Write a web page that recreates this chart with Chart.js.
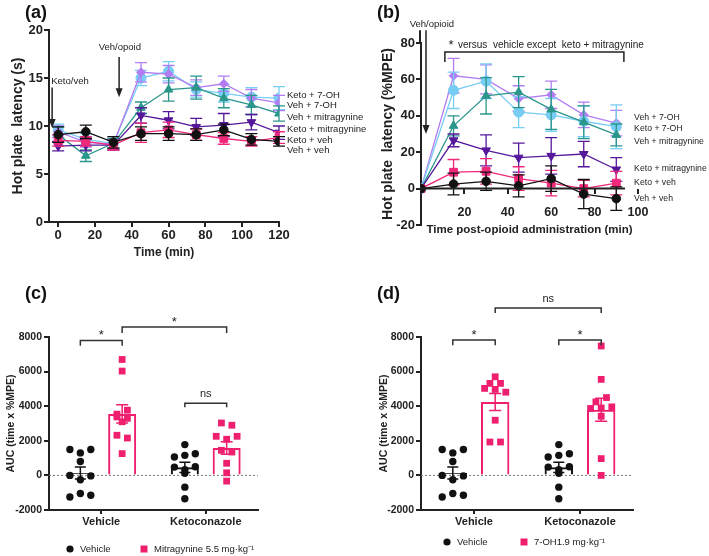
<!DOCTYPE html>
<html>
<head>
<meta charset="utf-8">
<title>Hot plate latency</title>
<script src="https://cdn.jsdelivr.net/npm/chart.js@4.4.1/dist/chart.umd.min.js"></script>
<style>
  html, body { margin: 0; padding: 0; background: #fff; }
  #fig { position: relative; width: 709px; height: 556px; overflow: hidden; font-family: "Liberation Sans", Arial, sans-serif; }
  #fig canvas { position: absolute; }
  .tag { position: absolute; font-weight: bold; font-size: 18px; line-height: 18px; color: #111; }
</style>
</head>
<body>
<div id="fig">
  <canvas id="chartA" width="372" height="270" style="left:0;top:0"></canvas>
  <canvas id="chartB" width="354" height="262" style="left:355px;top:0"></canvas>
  <canvas id="chartC" width="354" height="276" style="left:0;top:280px"></canvas>
  <canvas id="chartD" width="354" height="276" style="left:355px;top:280px"></canvas>
  <div class="tag" style="left:25px;top:3px">(a)</div>
  <div class="tag" style="left:377px;top:3px">(b)</div>
  <div class="tag" style="left:25px;top:284px">(c)</div>
  <div class="tag" style="left:377px;top:284px">(d)</div>
</div>
<script>
// ---- (a) hot plate latency in seconds
const timeA = [0, 15, 30, 45, 60, 75, 90, 105, 120];
const tickAx = [0, 20, 40, 60, 80, 100, 120];
const tickAy = [0, 5, 10, 15, 20];
const ketoOH_A = [9.6, 8.6, 8.2, 15.0, 15.7, 13.8, 13.4, 13.0, 12.9];
const ketoOH_Aerr = [0.6, 0.6, 0.5, 0.8, 1.0, 0.8, 0.9, 1.0, 1.2];
const vehOH_A = [9.4, 8.3, 8.1, 15.6, 15.4, 14.0, 14.4, 12.9, 12.4];
const vehOH_Aerr = [0.6, 0.5, 0.5, 1.0, 0.9, 0.8, 0.8, 0.9, 0.8];
const vehMit_A = [9.1, 6.9, 8.2, 11.9, 13.8, 14.0, 12.9, 12.2, 11.3];
const vehMit_Aerr = [0.8, 0.6, 0.5, 0.6, 1.2, 1.2, 1.0, 1.0, 0.8];
const ketoMit_A = [7.9, 8.0, 8.0, 11.1, 10.6, 9.9, 10.1, 10.4, 9.3];
const ketoMit_Aerr = [0.5, 0.6, 0.5, 0.8, 0.9, 0.9, 1.2, 0.8, 0.7];
const ketoVeh_A = [8.5, 8.4, 8.0, 9.3, 9.6, 9.1, 8.7, 8.4, 8.8];
const ketoVeh_Aerr = [0.6, 0.5, 0.5, 1.0, 0.8, 0.6, 0.6, 0.5, 0.6];
const vehVeh_A = [9.1, 9.4, 8.3, 9.2, 9.2, 9.1, 9.6, 8.6, 8.4];
const vehVeh_Aerr = [0.8, 0.7, 0.6, 0.7, 0.7, 0.6, 0.6, 0.6, 0.5];

// ---- (b) %MPE after opioid
const timeB = [0, 15, 30, 45, 60, 75, 90];
const tickBx = [20, 40, 60, 80, 100];
const tickBy = [-20, 0, 20, 40, 60, 80];
const vehOH_B = [0, 62, 60, 49.5, 51.5, 40.5, 36];
const vehOH_Berr = [0, 9.5, 8, 7, 7.5, 7, 7];
const ketoOH_B = [0, 54, 59, 42, 40.5, 37, 34];
const ketoOH_Berr = [0, 10, 9.5, 8.5, 9, 8.5, 12];
const vehMit_B = [0, 34.5, 51, 53, 43.5, 36.5, 29.5];
const vehMit_Berr = [0, 5.5, 10, 8.5, 11, 9, 6];
const ketoMit_B = [0, 26.5, 21, 17, 18, 19, 10.5];
const ketoMit_Berr = [0, 3.5, 8.5, 8, 10, 7, 6.5];
const ketoVeh_B = [0, 9, 9.5, 5.5, 3, 0, 3];
const ketoVeh_Berr = [0, 7, 7, 6.5, 7, 4.5, 6.5];
const vehVeh_B = [0, 2.5, 4, 1.5, 5.5, -3, -5.5];
const vehVeh_Berr = [0, 6, 5, 6, 7, 8, 6.5];

// ---- (c)/(d) AUC, individual animals
const groupsAUC = ['Vehicle', 'Ketoconazole'];
const tickAUC = [-2000, 0, 2000, 4000, 6000, 8000];
const vehAUC_vehicle = [1500, 1300, 1500, 800, 0, -250, -30, -1250, -1050, -1150];
const vehAUC_keto = [1780, 1060, 1160, 1250, 480, 330, 500, 120, -680, -1350];
const mitAUC_vehicle = [6700, 6030, 3540, 3770, 3380, 3300, 3100, 2320, 2160, 1260];
const mitAUC_keto = [3030, 2900, 2260, 2090, 2260, 1450, 1350, 700, 150, -330];
const ohAUC_vehicle = [5700, 5030, 4970, 4810, 5320, 5320, 3190, 1930, 1930];
const ohAUC_keto = [7480, 5550, 4250, 4500, 3870, 3900, 3960, 3420, 970, 0];

const FONT = '"Liberation Sans", Arial, sans-serif';
const PINK = '#EE1F6F';
const C = {
  ketoOH: '#78CDF4', vehOH: '#B27DF2', vehMit: '#2A968B',
  ketoMit: '#55189B', ketoVeh: '#F0287A', vehVeh: '#111111'
};

Chart.defaults.font.family = FONT;
Chart.defaults.color = '#222';
Chart.defaults.animation = false;
Chart.defaults.plugins.legend.display = false;
Chart.defaults.plugins.tooltip.enabled = false;

// error bars: behind the points of line series, on top of bars
function drawErr(chart, i, kind) {
  const ds = chart.data.datasets[i];
  if (!ds.err || ds.errKind !== kind) return;
  const meta = chart.getDatasetMeta(i);
  const ys = chart.scales[meta.yAxisID];
  const ctx = chart.ctx;
  ctx.save();
  ctx.strokeStyle = ds.borderColor;
  ctx.lineWidth = ds.errWidth || 1.3;
  meta.data.forEach((el, j) => {
    const e = ds.err[j];
    if (!e) return;
    const d = ds.data[j];
    const v = typeof d === 'object' ? d.y : d;
    const t = ys.getPixelForValue(v + e), b = ys.getPixelForValue(v - e);
    const w = ds.cap || 6;
    ctx.beginPath();
    ctx.moveTo(el.x, t); ctx.lineTo(el.x, b);
    ctx.moveTo(el.x - w, t); ctx.lineTo(el.x + w, t);
    ctx.moveTo(el.x - w, b); ctx.lineTo(el.x + w, b);
    ctx.stroke();
  });
  ctx.restore();
}
const errBars = {
  id: 'errBars',
  beforeDatasetDraw(chart, args) { drawErr(chart, args.index, 'line'); },
  afterDatasetDraw(chart, args) { drawErr(chart, args.index, 'bar'); }
};

function arrowDown(ctx, x, y1, y2) {
  ctx.beginPath();
  ctx.lineWidth = 1.5;
  ctx.moveTo(x, y1); ctx.lineTo(x, y2 - 6);
  ctx.stroke();
  ctx.beginPath();
  ctx.moveTo(x - 3.5, y2 - 9); ctx.lineTo(x + 3.5, y2 - 9); ctx.lineTo(x, y2);
  ctx.closePath(); ctx.fill();
}

function series(name, xs, ys, err, color, style, r, rot) {
  return {
    label: name, data: xs.map((t, i) => ({x: t, y: ys[i]})), err: err, errKind: 'line', cap: 6,
    borderColor: color, backgroundColor: color, borderWidth: 1.3,
    pointStyle: style, pointRadius: r, pointRotation: rot || 0,
    pointBackgroundColor: color, pointBorderColor: color, pointBorderWidth: 1
  };
}

function axisCommon(size) {
  return {
    border: {display: true, color: '#222', width: 2},
    grid: {drawOnChartArea: false, drawTicks: true, tickLength: 5, color: '#222', lineWidth: 2},
    ticks: {font: {size: size, weight: 'bold'}, color: '#222'}
  };
}

// ---------------- panel (a)
const namesA = ['Keto + 7-OH', 'Veh + 7-OH', 'Veh + mitragynine', 'Keto + mitragynine', 'Keto + veh', 'Veh + veh'];
const labelYA = [13.2, 12.2, 10.9, 9.7, 8.5, 7.5];
const notesA = {
  id: 'notesA',
  afterDraw(chart) {
    const {ctx, scales: {x, y}} = chart;
    ctx.save();
    ctx.fillStyle = '#222'; ctx.strokeStyle = '#222';
    ctx.font = '9.5px ' + FONT;
    ctx.textBaseline = 'middle';
    ctx.textAlign = 'left';
    ctx.fillText('Keto/veh', x.getPixelForValue(-3.8), y.getPixelForValue(14.6));
    arrowDown(ctx, x.getPixelForValue(-3.3), y.getPixelForValue(14.0), y.getPixelForValue(9.8));
    ctx.textAlign = 'center';
    ctx.fillText('Veh/opoid', x.getPixelForValue(33.5), y.getPixelForValue(18.2));
    arrowDown(ctx, x.getPixelForValue(33.1), y.getPixelForValue(17.2), y.getPixelForValue(13.0));
    ctx.textAlign = 'left';
    namesA.forEach((s, i) => ctx.fillText(s, x.getPixelForValue(124.3), y.getPixelForValue(labelYA[i])));
    ctx.restore();
  }
};

const axAx = axisCommon(13), axAy = axisCommon(13);
axAx.ticks.padding = 1; axAy.ticks.padding = 1;
new Chart(document.getElementById('chartA'), {
  type: 'line',
  data: {
    datasets: [
      series('Veh + veh', timeA, vehVeh_A, vehVeh_Aerr, C.vehVeh, 'circle', 4.3),
      series('Keto + veh', timeA, ketoVeh_A, ketoVeh_Aerr, C.ketoVeh, 'rect', 5.5),
      series('Keto + mitragynine', timeA, ketoMit_A, ketoMit_Aerr, C.ketoMit, 'triangle', 5, 180),
      series('Veh + mitragynine', timeA, vehMit_A, vehMit_Aerr, C.vehMit, 'triangle', 5),
      series('Veh + 7-OH', timeA, vehOH_A, vehOH_Aerr, C.vehOH, 'rectRot', 4.5),
      series('Keto + 7-OH', timeA, ketoOH_A, ketoOH_Aerr, C.ketoOH, 'circle', 5)
    ]
  },
  options: {
    responsive: false,
    layout: {padding: {left: 8, top: 30, right: 372 - 279, bottom: 0}},
    scales: {
      x: Object.assign(axAx, {
        type: 'linear', min: -5, max: 120,
        afterBuildTicks: s => { s.ticks = tickAx.map(v => ({value: v})); },
        afterFit: s => { s.height = 48; },
        title: {display: true, text: 'Time (min)', font: {size: 12, weight: 'bold'}, color: '#222', padding: {top: 0, bottom: 10}}
      }),
      y: Object.assign(axAy, {
        type: 'linear', min: 0, max: 20,
        afterBuildTicks: s => { s.ticks = tickAy.map(v => ({value: v})); },
        afterFit: s => { s.width = 41; },
        title: {display: true, text: 'Hot plate  latency (s)', font: {size: 14, weight: 'bold'}, color: '#222', padding: {top: 2, bottom: 0}}
      })
    }
  },
  plugins: [errBars, notesA]
});

// ---------------- panel (b)
const namesB = ['Veh + 7-OH', 'Keto + 7-OH', 'Veh + mitragynine', 'Keto + mitragynine', 'Keto + veh', 'Veh + veh'];
const labelYB = [39.2, 33.1, 26, 11, 3.3, -5.5];
const notesB = {
  id: 'notesB',
  afterDraw(chart) {
    const {ctx, scales: {x, y}, chartArea} = chart;
    ctx.save();
    ctx.fillStyle = '#222'; ctx.strokeStyle = '#222';
    // axis lines: x axis stops short of the last tick, y axis runs above 80
    ctx.lineWidth = 2;
    ctx.beginPath();
    ctx.moveTo(x.getPixelForValue(0), y.getPixelForValue(0));
    ctx.lineTo(x.getPixelForValue(94), y.getPixelForValue(0));
    ctx.moveTo(chartArea.left - 1, y.getPixelForValue(80));
    ctx.lineTo(chartArea.left - 1, y.getPixelForValue(87));
    ctx.stroke();
    ctx.font = 'bold 11.5px ' + FONT;
    ctx.textAlign = 'center'; ctx.textBaseline = 'middle';
    ctx.fillText('Time post-opioid administration (min)', (chartArea.left + chartArea.right) / 2, chartArea.bottom + 5);
    ctx.font = '9.5px ' + FONT;
    ctx.fillText('Veh/opioid', x.getPixelForValue(5), y.getPixelForValue(90));
    arrowDown(ctx, x.getPixelForValue(2.3), y.getPixelForValue(87), y.getPixelForValue(30));
    // bracket + note
    ctx.lineWidth = 1.5;
    ctx.beginPath();
    ctx.moveTo(x.getPixelForValue(11), y.getPixelForValue(69.6));
    ctx.lineTo(x.getPixelForValue(11), y.getPixelForValue(75));
    ctx.lineTo(x.getPixelForValue(93.5), y.getPixelForValue(75));
    ctx.lineTo(x.getPixelForValue(93.5), y.getPixelForValue(69.6));
    ctx.stroke();
    ctx.textAlign = 'center'; ctx.textBaseline = 'alphabetic';
    ctx.font = '13px ' + FONT;
    ctx.fillText('*', x.getPixelForValue(13.8), y.getPixelForValue(76.5));
    ctx.textAlign = 'left'; ctx.textBaseline = 'middle';
    ctx.font = '10px ' + FONT;
    ctx.fillText('versus  vehicle except  keto + mitragynine', x.getPixelForValue(17), y.getPixelForValue(79));
    ctx.font = '8.7px ' + FONT;
    namesB.forEach((s, i) => ctx.fillText(s, x.getPixelForValue(98.2), y.getPixelForValue(labelYB[i])));
    ctx.restore();
  }
};

const axBx = axisCommon(12.5), axBy = axisCommon(13);
axBx.border = {display: false};
axBx.ticks.padding = 11; axBy.ticks.padding = 1;
new Chart(document.getElementById('chartB'), {
  type: 'line',
  data: {
    datasets: [
      series('Veh + veh', timeB, vehVeh_B, vehVeh_Berr, C.vehVeh, 'circle', 4.3),
      series('Keto + veh', timeB, ketoVeh_B, ketoVeh_Berr, C.ketoVeh, 'rect', 5.5),
      series('Keto + mitragynine', timeB, ketoMit_B, ketoMit_Berr, C.ketoMit, 'triangle', 5, 180),
      series('Veh + mitragynine', timeB, vehMit_B, vehMit_Berr, C.vehMit, 'triangle', 5),
      series('Keto + 7-OH', timeB, ketoOH_B, ketoOH_Berr, C.ketoOH, 'circle', 5),
      series('Veh + 7-OH', timeB, vehOH_B, vehOH_Berr, C.vehOH, 'rectRot', 4.5)
    ]
  },
  options: {
    responsive: false,
    layout: {padding: {left: 21, top: 43, right: 354 - 283, bottom: 37}},
    scales: {
      x: Object.assign(axBx, {
        type: 'linear', min: 0, max: 100, position: {y: 0},
        afterBuildTicks: s => { s.ticks = tickBx.map(v => ({value: v})); }
      }),
      y: Object.assign(axBy, {
        type: 'linear', min: -20, max: 80,
        afterBuildTicks: s => { s.ticks = tickBy.map(v => ({value: v})); },
        afterFit: s => { s.width = 45; },
        title: {display: true, text: 'Hot plate  latency (%MPE)', font: {size: 14, weight: 'bold'}, color: '#222', padding: {top: 4, bottom: 0}}
      })
    }
  },
  plugins: [errBars, notesB]
});

// ---------------- panels (c) and (d)
const SIDE = 0.2;     // offset of each bar from its group centre
function mean(a) { return a.reduce((s, v) => s + v, 0) / a.length; }
function sem(a) {
  const m = mean(a);
  return Math.sqrt(a.reduce((s, v) => s + (v - m) * (v - m), 0) / (a.length - 1) / a.length);
}
// column scatter: points with close values share a row and are spread sideways
function swarm(vals, thr, step) {
  const idx = vals.map((v, i) => i).sort((a, b) => vals[b] - vals[a]);
  const off = vals.map(() => 0);
  let row = [];
  const flush = () => {
    row.sort((a, b) => a - b).forEach((k, n) => { off[k] = (n - (row.length - 1) / 2) * step; });
    row = [];
  };
  idx.forEach(k => { if (row.length && vals[row[0]] - vals[k] > thr) flush(); row.push(k); });
  flush();
  return off;
}
function points(groups, side) {
  let out = [];
  groups.forEach((vals, g) => {
    const off = swarm(vals, 270, 0.1);
    out = out.concat(vals.map((v, i) => ({x: g + side + off[i], y: v})));
  });
  return out;
}

function aucChart(id, padLeft, yWidth, right, drugV, drugK, drugName, brackets, legendX, legendY) {
  const notes = {
    id: 'notes' + id,
    beforeDatasetsDraw(chart) {
      const {ctx, scales: {y}, chartArea} = chart;
      ctx.save();
      ctx.strokeStyle = '#777'; ctx.lineWidth = 1; ctx.setLineDash([2, 2]);
      ctx.beginPath();
      ctx.moveTo(chartArea.left, y.getPixelForValue(0));
      ctx.lineTo(chartArea.right, y.getPixelForValue(0));
      ctx.stroke();
      ctx.restore();
    },
    afterDraw(chart) {
      const {ctx, scales: {x, y}} = chart;
      ctx.save();
      ctx.strokeStyle = '#333'; ctx.fillStyle = '#222'; ctx.lineWidth = 1.5;
      brackets.forEach(b => {
        const x1 = x.getPixelForValue(b.x1), x2 = x.getPixelForValue(b.x2);
        const yy = y.getPixelForValue(b.y), yd = y.getPixelForValue(b.y - b.drop);
        ctx.beginPath();
        ctx.moveTo(x1, yd); ctx.lineTo(x1, yy); ctx.lineTo(x2, yy); ctx.lineTo(x2, yd);
        ctx.stroke();
        ctx.textAlign = 'center'; ctx.textBaseline = 'alphabetic';
        ctx.font = (b.text === '*' ? '13px ' : '11px ') + FONT;
        ctx.fillText(b.text, (x1 + x2) / 2, yy - (b.text === '*' ? 1 : 6));
      });
      // legend
      ctx.textAlign = 'left'; ctx.textBaseline = 'middle';
      ctx.font = '9.5px ' + FONT;
      ctx.fillStyle = '#111';
      ctx.beginPath(); ctx.arc(legendX[0], legendY, 3.6, 0, Math.PI * 2); ctx.fill();
      ctx.fillStyle = '#222';
      ctx.fillText('Vehicle', legendX[0] + 10, legendY);
      ctx.fillStyle = PINK;
      ctx.fillRect(legendX[1] - 3.5, legendY - 3.5, 7, 7);
      ctx.fillStyle = '#222';
      ctx.fillText(drugName, legendX[1] + 10, legendY);
      ctx.restore();
    }
  };
  const vehG = [vehAUC_vehicle, vehAUC_keto], drugG = [drugV, drugK];
  const barData = (groups, side) => groups.map((g, i) => ({x: i + side, y: mean(g)}));
  const ax = axisCommon(11), ay = axisCommon(10.5);
  ax.grid.offset = false; ax.grid.tickLength = 4;
  ax.ticks.padding = 1; ay.ticks.padding = 2;
  ax.ticks.callback = v => groupsAUC[v];
  ay.ticks.callback = v => String(v);
  return new Chart(document.getElementById(id), {
    type: 'bar',
    data: {
      datasets: [
        {label: 'Vehicle', data: barData(vehG, -SIDE), err: vehG.map(sem), errKind: 'bar', errWidth: 1.5, cap: 5.5,
         borderColor: '#111', backgroundColor: 'rgba(255,255,255,0)', borderWidth: 2, order: 3,
         grouped: false, categoryPercentage: 1, barPercentage: 0.67},
        {label: drugName, data: barData(drugG, SIDE), err: drugG.map(sem), errKind: 'bar', errWidth: 1.5, cap: 6,
         borderColor: PINK, backgroundColor: 'rgba(255,255,255,0)', borderWidth: 2, order: 3,
         grouped: false, categoryPercentage: 1, barPercentage: 0.67},
        {type: 'scatter', label: 'Vehicle', data: points(vehG, -SIDE), order: 1,
         pointStyle: 'circle', pointRadius: 3.7, backgroundColor: '#111', borderColor: '#111', borderWidth: 0},
        {type: 'scatter', label: drugName, data: points(drugG, SIDE), order: 1,
         pointStyle: 'rect', pointRadius: 4.8, backgroundColor: PINK, borderColor: PINK, borderWidth: 0}
      ]
    },
    options: {
      responsive: false,
      layout: {padding: {left: padLeft, top: 57, right: right, bottom: 0}},
      scales: {
        x: Object.assign(ax, {
          type: 'linear', min: -0.5, max: 1.5, offset: false,
          afterBuildTicks: s => { s.ticks = groupsAUC.map((g, i) => ({value: i})); },
          afterFit: s => { s.height = 46; }
        }),
        y: Object.assign(ay, {
          type: 'linear', min: -2000, max: 8000,
          afterBuildTicks: s => { s.ticks = tickAUC.map(v => ({value: v})); },
          afterFit: s => { s.width = yWidth; },
          title: {display: true, text: 'AUC (time x %MPE)', font: {size: 10.5, weight: 'bold'}, color: '#222', padding: {top: 5, bottom: 0}}
        })
      }
    },
    plugins: [errBars, notes]
  });
}

aucChart('chartC', 0, 49, 354 - 258, mitAUC_vehicle, mitAUC_keto, 'Mitragynine 5.5 mg·kg⁻¹', [
  {x1: -SIDE, x2: SIDE, y: 7800, drop: 300, text: '*'},
  {x1: SIDE, x2: 1 + SIDE, y: 8580, drop: 350, text: '*'},
  {x1: 1 - SIDE, x2: 1 + SIDE, y: 4174, drop: 230, text: 'ns'}
], [70, 144], 269);

aucChart('chartD', 18, 48, 354 - 278, ohAUC_vehicle, ohAUC_keto, '7-OH1.9 mg·kg⁻¹', [
  {x1: -SIDE, x2: SIDE, y: 7826, drop: 300, text: '*'},
  {x1: 1 - SIDE, x2: 1 + SIDE, y: 7826, drop: 300, text: '*'},
  {x1: SIDE, x2: 1 + SIDE, y: 9680, drop: 290, text: 'ns'}
], [92, 169], 262);
</script>
</body>
</html>
